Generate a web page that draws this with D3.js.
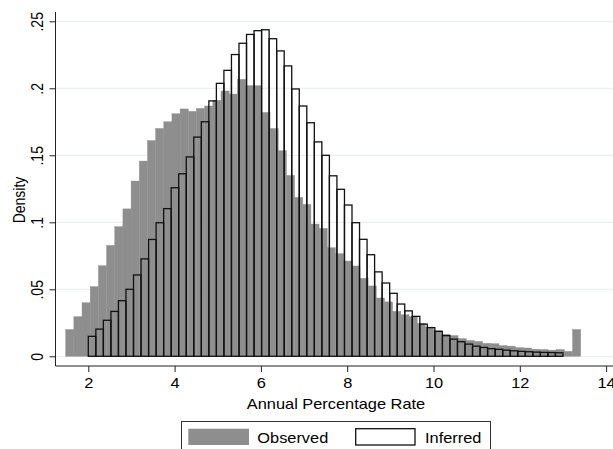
<!DOCTYPE html>
<html>
<head>
<meta charset="utf-8">
<script src="https://cdn.jsdelivr.net/npm/d3@7"></script>
<style>
  body { margin: 0; background: #fff; }
  text { font-family: "Liberation Sans", Arial, sans-serif; fill: #000; }
</style>
</head>
<body>
<div id="chart"></div>
<script>
const width = 613;
const height = 449;

// Observed APR histogram: 63 bins between these limits
const obsRange = [1.476, 13.411];
const obsDensity = [
	0.020, 0.0296, 0.040, 0.052, 0.0676, 0.0828, 0.0967, 0.110, 0.1308, 0.1457,
	0.161, 0.170, 0.175, 0.181, 0.1846, 0.1828, 0.185, 0.1868, 0.191, 0.198,
	0.1957, 0.2067, 0.202, 0.202, 0.182, 0.170, 0.1534, 0.135, 0.1186, 0.1134,
	0.0987, 0.0955, 0.081, 0.0766, 0.0711, 0.0674, 0.0582, 0.0525, 0.0435, 0.0406,
	0.0336, 0.031, 0.0296, 0.0246, 0.0218, 0.0191, 0.0165, 0.0155, 0.0132, 0.0118,
	0.0111, 0.0097, 0.0094, 0.008, 0.0076, 0.0065, 0.0062, 0.0053, 0.0051, 0.0046,
	0.0051, 0.0037, 0.020
];

// Inferred APR histogram: 63 bins between these limits
const infRange = [2, 13];
const infDensity = [
	0.0149, 0.0203, 0.0269, 0.0335, 0.0415, 0.050, 0.0607, 0.0727, 0.0872, 0.0997,
	0.1102, 0.1258, 0.1362, 0.1488, 0.1636, 0.175, 0.1906, 0.2037, 0.2134, 0.2252,
	0.2336, 0.2402, 0.243, 0.2437, 0.237, 0.2279, 0.2167, 0.1995, 0.1868, 0.1743,
	0.160, 0.150, 0.1347, 0.1246, 0.1129, 0.0997, 0.0873, 0.0758, 0.063, 0.0547,
	0.047, 0.039, 0.0339, 0.0298, 0.024, 0.0214, 0.0186, 0.0154, 0.0128, 0.0109,
	0.0091, 0.0076, 0.0066, 0.0057, 0.0052, 0.0046, 0.0041, 0.0037, 0.0034, 0.0031,
	0.0029, 0.0028, 0.0026
];

const xTicks = [2, 4, 6, 8, 10, 12, 14];
const yTicks = [0, 0.05, 0.1, 0.15, 0.2, 0.25];
const yTickLabels = ["0", ".05", ".1", ".15", ".2", ".25"];
const seriesNames = ["Observed", "Inferred"];

// text in the picture is stretched sideways
const stretch = 1.17;

const plot = { left: 55.5, right: 613, top: 12, bottom: 366 };

const x = d3.scaleLinear().domain([2, 14]).range([88.3, 606.1]);
const y = d3.scaleLinear().domain([0, 0.25]).range([356.3, 21.3]);

// turn density lists into bins
function toBins(range, dens) {
	const w = (range[1] - range[0]) / dens.length;
	return dens.map((d, i) => ({ x0: range[0] + i * w, x1: range[0] + (i + 1) * w, d: d }));
}
const obsBins = toBins(obsRange, obsDensity);
const infBins = toBins(infRange, infDensity);

const svg = d3.select("#chart")
	.append("svg")
	.attr("width", width)
	.attr("height", height);

svg.append("rect").attr("width", width).attr("height", height).attr("fill", "#fff");

// gridlines
svg.append("g")
	.selectAll("line")
	.data(yTicks)
	.enter()
	.append("line")
	.attr("x1", plot.left)
	.attr("x2", plot.right)
	.attr("y1", d => y(d))
	.attr("y2", d => y(d))
	.attr("stroke", "#e4eef0")
	.attr("stroke-width", 1);

// observed bars
svg.append("g")
	.selectAll("rect")
	.data(obsBins)
	.enter()
	.append("rect")
	.attr("x", d => x(d.x0))
	.attr("width", d => x(d.x1) - x(d.x0))
	.attr("y", d => y(d.d))
	.attr("height", d => y(0) - y(d.d))
	.attr("fill", "#8e8e8e")
	.attr("stroke", "#8e8e8e")
	.attr("stroke-width", 0.4);

// inferred bars, outline only
svg.append("g")
	.selectAll("rect")
	.data(infBins)
	.enter()
	.append("rect")
	.attr("x", d => x(d.x0))
	.attr("width", d => x(d.x1) - x(d.x0))
	.attr("y", d => y(d.d))
	.attr("height", d => y(0) - y(d.d))
	.attr("fill", "none")
	.attr("stroke", "#111")
	.attr("stroke-width", 1.3);

// axes
const xAxis = svg.append("g")
	.attr("transform", "translate(0," + plot.bottom + ")")
	.call(d3.axisBottom(x).tickValues(xTicks).tickSize(6).tickSizeOuter(0).tickFormat(d3.format("d")));
xAxis.select(".domain").remove();
xAxis.selectAll(".tick line").attr("stroke", "#222");
xAxis.selectAll(".tick text")
	.attr("y", 22)
	.attr("dy", null)
	.attr("font-size", 14)
	.attr("transform", "scale(" + stretch + ",1)");

const yAxis = svg.append("g")
	.attr("transform", "translate(" + plot.left + ",0)")
	.call(d3.axisLeft(y).tickValues(yTicks).tickSize(6).tickSizeOuter(0).tickFormat((d, i) => yTickLabels[i]));
yAxis.select(".domain").remove();
yAxis.selectAll(".tick line").attr("stroke", "#222");
yAxis.selectAll(".tick text")
	.attr("x", 0)
	.attr("y", 0)
	.attr("dy", null)
	.attr("text-anchor", "middle")
	.attr("font-size", 14)
	.attr("transform", "translate(-12.5,0) scale(" + stretch + ",1) rotate(-90)");

svg.append("line")
	.attr("x1", plot.left).attr("x2", plot.left)
	.attr("y1", plot.top).attr("y2", plot.bottom)
	.attr("stroke", "#222");
svg.append("line")
	.attr("x1", plot.left).attr("x2", plot.right)
	.attr("y1", plot.bottom).attr("y2", plot.bottom)
	.attr("stroke", "#222");

// axis titles
svg.append("text")
	.attr("transform", "translate(336,409) scale(" + stretch + ",1)")
	.attr("text-anchor", "middle")
	.attr("font-size", 14)
	.text("Annual Percentage Rate");

svg.append("text")
	.attr("transform", "translate(25,200) scale(" + stretch + ",1) rotate(-90)")
	.attr("text-anchor", "middle")
	.attr("font-size", 14)
	.text("Density");

// legend
const legend = svg.append("g");
legend.append("rect")
	.attr("x", 181.5).attr("y", 421.5)
	.attr("width", 309).attr("height", 40)
	.attr("fill", "#fff")
	.attr("stroke", "#333");
legend.append("rect")
	.attr("x", 188.3).attr("y", 428.7)
	.attr("width", 60.7).attr("height", 16.3)
	.attr("fill", "#8e8e8e");
legend.append("rect")
	.attr("x", 355.7).attr("y", 428.7)
	.attr("width", 59.3).attr("height", 16.3)
	.attr("fill", "#fff")
	.attr("stroke", "#111")
	.attr("stroke-width", 1.3);
legend.selectAll("text.lab")
	.data(seriesNames)
	.enter()
	.append("text")
	.attr("class", "lab")
	.attr("transform", (d, i) => "translate(" + [257.3, 425][i] + ",443.3) scale(" + stretch + ",1)")
	.attr("font-size", 14)
	.text(d => d);
</script>
</body>
</html>
